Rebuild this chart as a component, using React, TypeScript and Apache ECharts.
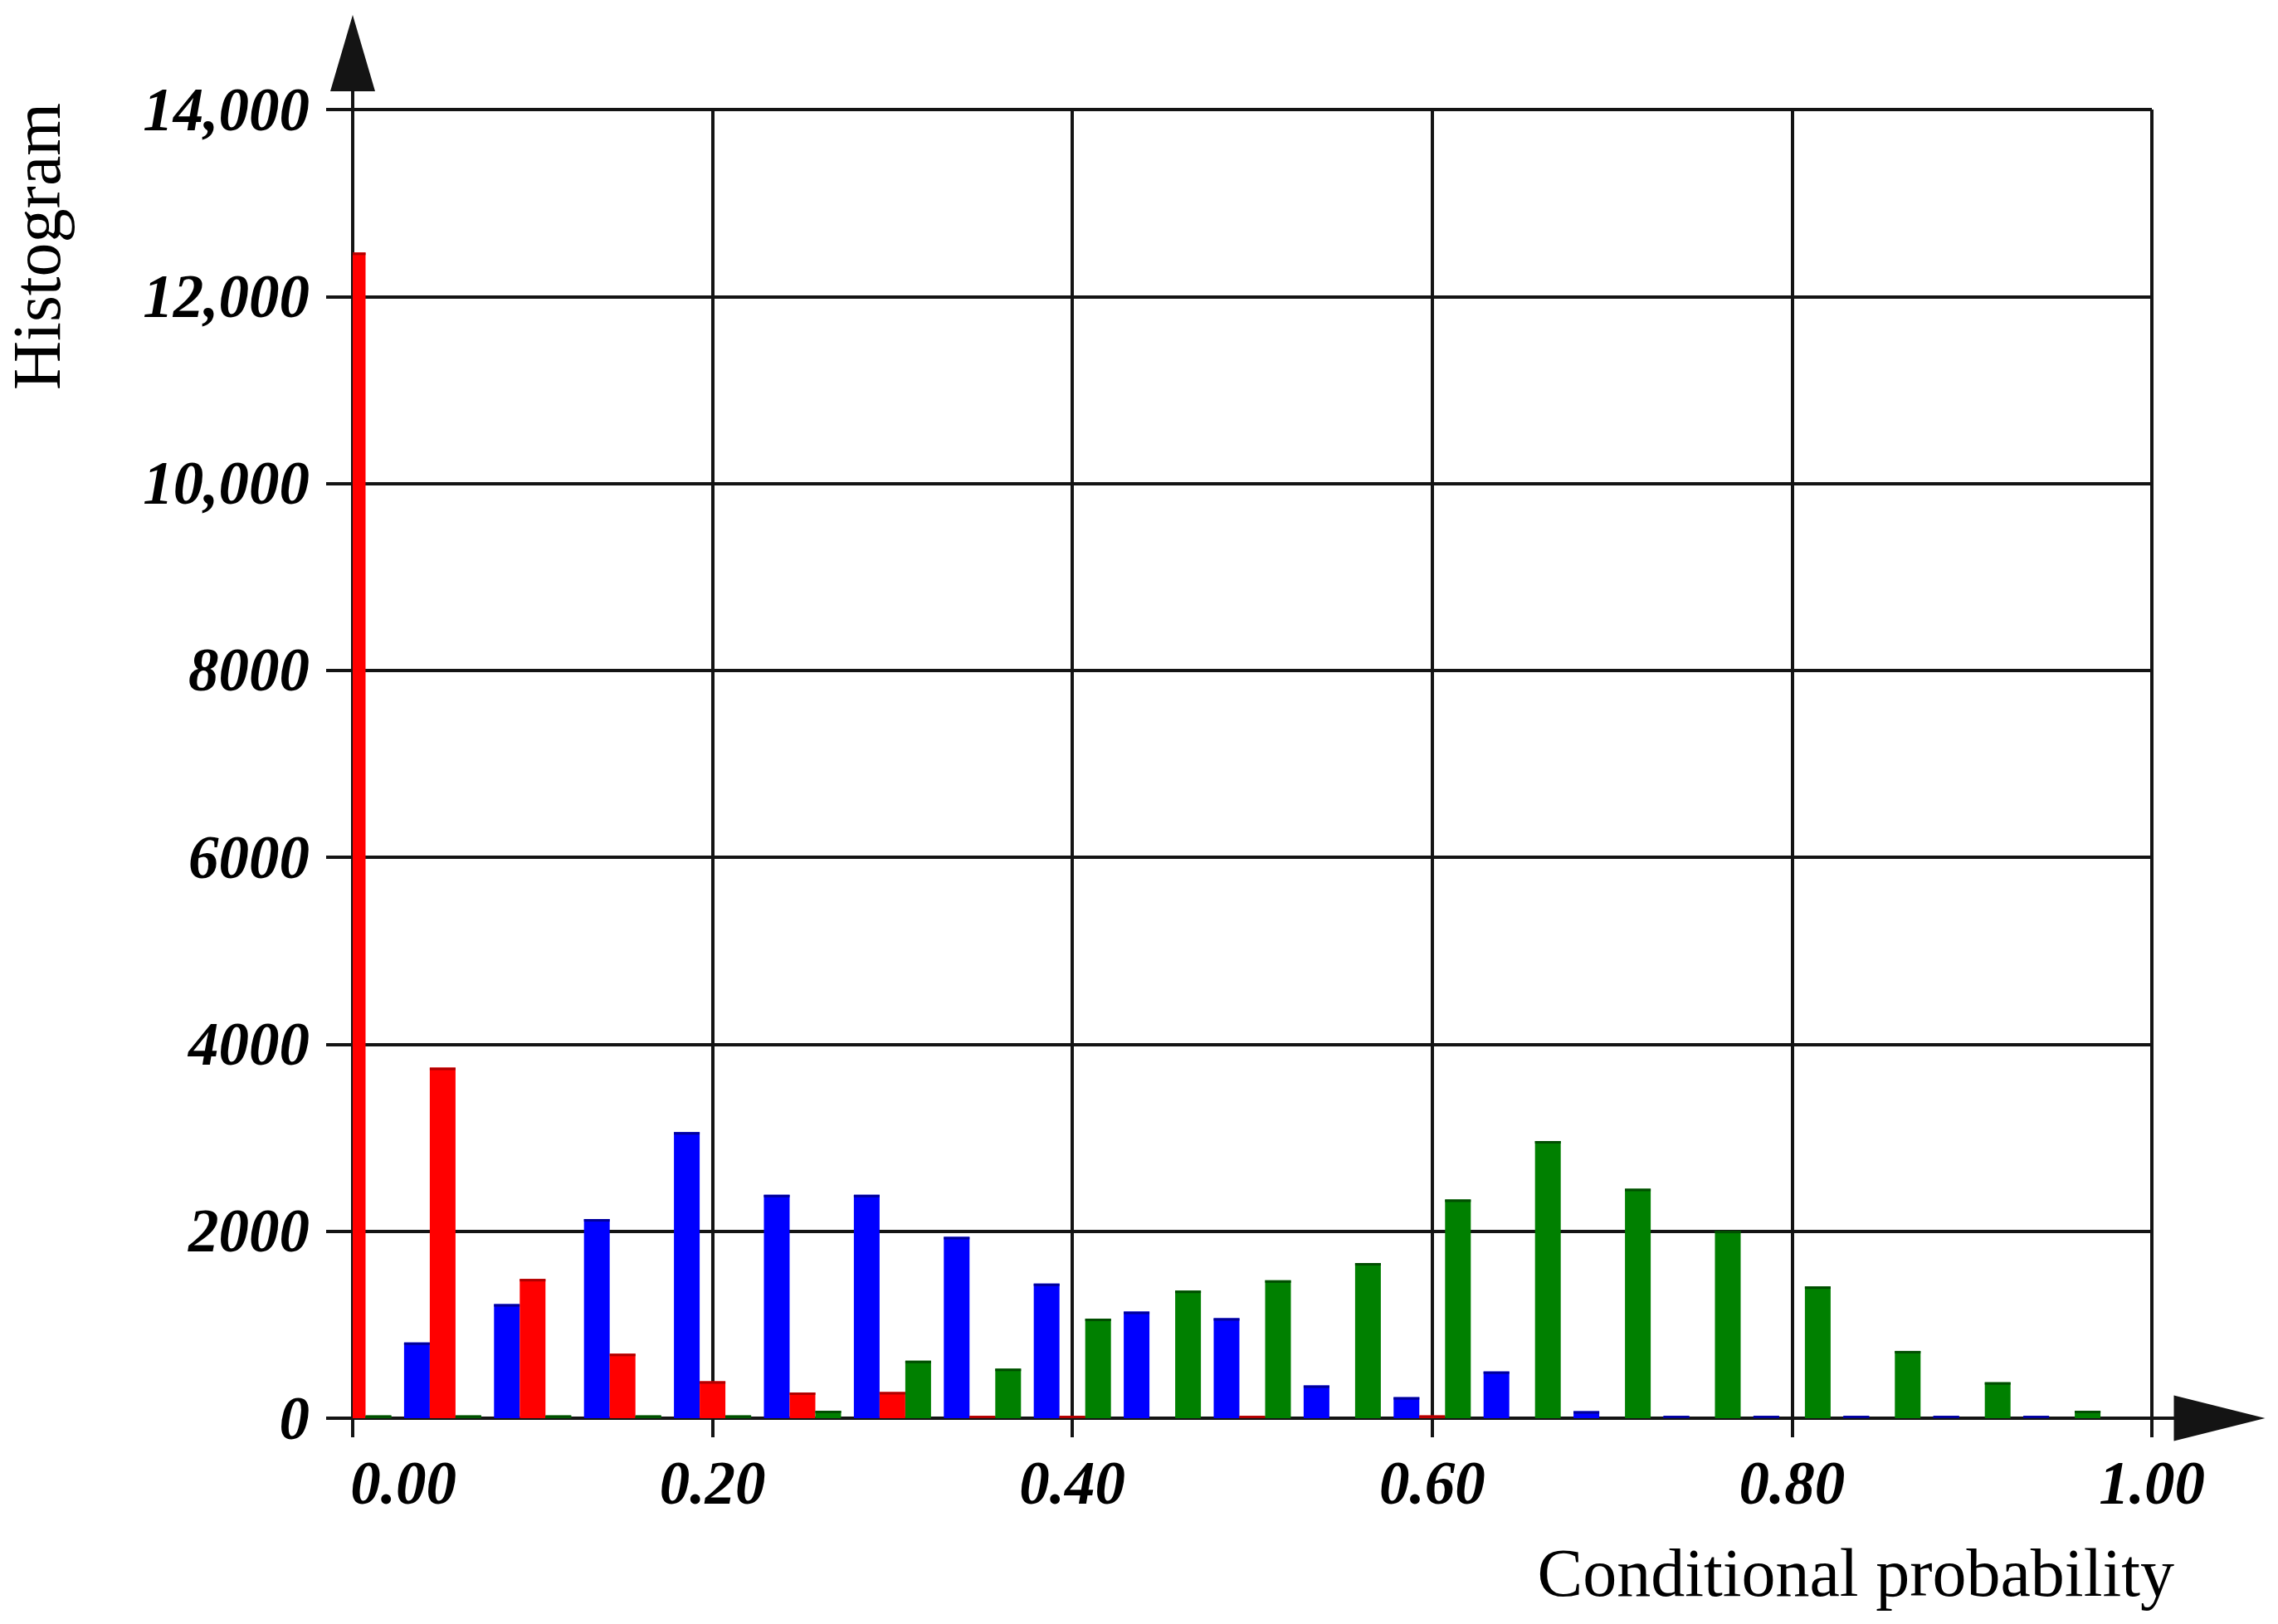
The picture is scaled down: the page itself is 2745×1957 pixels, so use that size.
import React, { useEffect, useRef } from 'react';
import * as echarts from 'echarts';

// Bin positions (conditional probability)
const bins = [0.00, 0.05, 0.10, 0.15, 0.20, 0.25, 0.30, 0.35, 0.40, 0.45, 0.50, 0.55, 0.60, 0.65, 0.70, 0.75, 0.80, 0.85, 0.90, 0.95];
const BIN_STEP = 0.05;

// Histogram counts per bin
const blueCounts = [0, 810, 1220, 2130, 3060, 2390, 2390, 1940, 1440, 1140, 1070, 350, 225, 500, 75, 25, 25, 25, 25, 25];
const redCounts = [12470, 3750, 1490, 690, 395, 275, 280, 25, 25, 0, 25, 0, 30, 0, 0, 0, 0, 0, 0, 0];
const greenCounts = [30, 30, 30, 30, 30, 80, 615, 530, 1065, 1365, 1475, 1660, 2340, 2965, 2455, 2005, 1410, 720, 385, 80];

// Tick labels
const yTickLabels = ['0', '2000', '4000', '6000', '8000', '10,000', '12,000', '14,000'];
const xTickLabels = ['0.00', '0.20', '0.40', '0.60', '0.80', '1.00'];

const xAxisTitle = 'Conditional probability';
const yAxisTitle = 'Histogram';

const Y_ARROW = 'path://M27 0 L54 92 L29 92 L29 114 L25 114 L25 92 L0 92 Z';
const X_ARROW = 'path://M27.5 0 L55 110 L29.5 110 L29.5 137 L25.5 137 L25.5 110 L0 110 Z';
const LINE = '#141414';
const SERIF = '"Liberation Serif", "Times New Roman", serif';

const seriesDefs = [
  { name: 'blue', values: blueCounts, color: '#0000ff', top: '#00009a', slot: -1 },
  { name: 'red', values: redCounts, color: '#ff0000', top: '#b00000', slot: 0 },
  { name: 'green', values: greenCounts, color: '#008000', top: '#004d00', slot: 1 },
];

export default function App() {
  const ref = useRef<HTMLDivElement>(null);

  useEffect(() => {
    if (!ref.current) return;
    const chart = echarts.init(ref.current, null, { renderer: 'svg' });

    const labelFont = {
      fontFamily: SERIF,
      fontWeight: 'bold' as const,
      fontStyle: 'italic' as const,
      fontSize: 73,
      color: '#000',
    };

    const makeSeries = (def: typeof seriesDefs[number]) => ({
      name: def.name,
      type: 'custom',
      encode: { x: 0, y: 1 },
      data: bins.map((b, i) => [b, def.values[i]]),
      renderItem: (params: any, api: any) => {
        const x = api.value(0);
        const v = api.value(1);
        if (!v) return null;
        const bandPx = api.size([BIN_STEP, 0])[0];
        const w = bandPx * 0.286;
        const base = api.coord([x, 0]);
        const topPt = api.coord([x, v]);
        const rect = {
          x: base[0] + def.slot * w - w / 2,
          y: topPt[1],
          width: w,
          height: base[1] - topPt[1],
        };
        const cs = params.coordSys;
        const shape = echarts.graphic.clipRectByRect(rect, {
          x: cs.x,
          y: cs.y,
          width: cs.width,
          height: cs.height,
        });
        if (!shape) return null;
        const capH = Math.min(3, shape.height);
        return {
          type: 'group',
          children: [
            { type: 'rect', shape, style: { fill: def.color } },
            {
              type: 'rect',
              shape: { x: shape.x, y: shape.y, width: shape.width, height: capH },
              style: { fill: def.top },
            },
          ],
        };
      },
    });

    chart.setOption({
      animation: false,
      backgroundColor: '#ffffff',
      grid: { left: 425, right: 152, top: 132, bottom: 248, containLabel: false },
      xAxis: {
        type: 'value',
        min: 0,
        max: 1,
        interval: 0.2,
        axisLine: {
          show: true,
          onZero: false,
          lineStyle: { color: LINE, width: 4 },
          symbol: ['none', X_ARROW],
          symbolSize: [55, 137],
          symbolOffset: [0, 68],
        },
        axisTick: { show: true, length: 23, lineStyle: { color: LINE, width: 4 } },
        splitLine: { show: true, lineStyle: { color: LINE, width: 4 } },
        axisLabel: {
          ...labelFont,
          margin: 42,
          formatter: (v: number) => {
            const s = xTickLabels[Math.round(v / 0.2)];
            return v === 0 ? '{first|' + s + '}' : s;
          },
          rich: {
            first: { ...labelFont, padding: [0, 0, 0, 122] },
          },
        },
      },
      yAxis: {
        type: 'value',
        min: 0,
        max: 14000,
        interval: 2000,
        axisLine: {
          show: true,
          lineStyle: { color: LINE, width: 4 },
          symbol: ['none', Y_ARROW],
          symbolSize: [54, 114],
          symbolOffset: [0, 57],
        },
        axisTick: { show: true, length: 32, lineStyle: { color: LINE, width: 4 } },
        splitLine: { show: true, lineStyle: { color: LINE, width: 4 } },
        axisLabel: {
          ...labelFont,
          margin: 52,
          formatter: (v: number) => yTickLabels[Math.round(v / 2000)],
        },
      },
      series: seriesDefs.map(makeSeries),
      graphic: [
        {
          type: 'text',
          x: 44,
          y: 297,
          rotation: Math.PI / 2,
          style: {
            text: yAxisTitle,
            fontFamily: SERIF,
            fontSize: 82,
            fill: '#000',
            align: 'center',
            verticalAlign: 'middle',
          },
        },
        {
          type: 'text',
          x: 2620,
          y: 1895,
          style: {
            text: xAxisTitle,
            fontFamily: SERIF,
            fontSize: 82,
            fill: '#000',
            align: 'right',
            verticalAlign: 'middle',
          },
        },
      ],
    });

    return () => chart.dispose();
  }, []);

  return (
    <div
      ref={ref}
      style={{ position: 'absolute', left: 0, top: 0, width: 2745, height: 1957, background: '#fff' }}
    />
  );
}
